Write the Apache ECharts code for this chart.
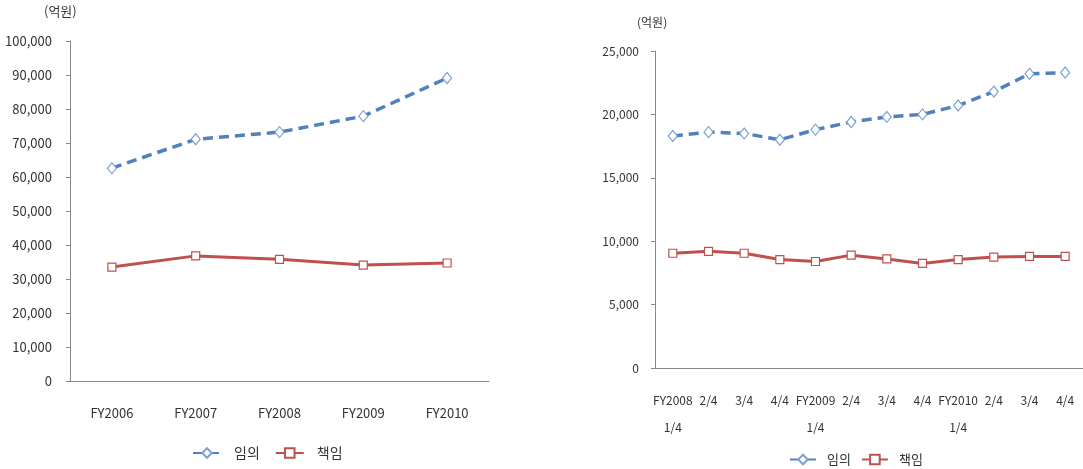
<!DOCTYPE html>
<html>
<head>
<meta charset="utf-8">
<script src="https://cdn.jsdelivr.net/npm/echarts@6/dist/echarts.min.js"></script>
<style>
  html, body { margin: 0; padding: 0; background: #fff; }
  #main { width: 1083px; height: 469px; }
</style>
</head>
<body>
<div id="main"></div>
<script>
// 연도별 (좌측)
var yearCats = ['FY2006', 'FY2007', 'FY2008', 'FY2009', 'FY2010'];
var yearVoluntary = [62600, 71100, 73200, 77900, 89100];   // 임의
var yearMandatory = [33500, 36800, 35800, 34100, 34700];   // 책임

// 분기별 (우측)
var quarterCats = ['FY2008\n1/4', '2/4', '3/4', '4/4', 'FY2009\n1/4', '2/4', '3/4', '4/4', 'FY2010\n1/4', '2/4', '3/4', '4/4'];
var quarterVoluntary = [18300, 18600, 18500, 18000, 18800, 19400, 19800, 20000, 20700, 21800, 23200, 23300];
var quarterMandatory = [9050, 9200, 9050, 8550, 8400, 8900, 8600, 8250, 8550, 8750, 8800, 8800];

var unitLabel = '(억원)';
var nameVol = '임의';
var nameMan = '책임';

var font = '"Liberation Sans Narrow", "Noto Sans CJK KR", sans-serif';
var textColor = '#333';
var axisColor = '#888';
var blue = '#4F81BD';
var red = '#C0504D';

var fmt = function (v) { return v.toLocaleString('en-US'); };

var chart = echarts.init(document.getElementById('main'));

function volSeries(x, data) {
  return {
    name: nameVol, type: 'line', xAxisIndex: x, yAxisIndex: x, data: data,
    symbol: 'diamond', symbolSize: [9, 11], showAllSymbol: true,
    lineStyle: { color: blue, width: 3.5, type: [10, 6] },
    itemStyle: { color: '#fff', borderColor: '#7EA1D3', borderWidth: 1.2 },
    emphasis: { disabled: true }
  };
}
function manSeries(x, data) {
  return {
    name: nameMan, type: 'line', xAxisIndex: x, yAxisIndex: x, data: data,
    symbol: 'rect', symbolSize: 8, showAllSymbol: true,
    lineStyle: { color: red, width: 3 },
    itemStyle: { color: '#fff', borderColor: red, borderWidth: 1.2 },
    emphasis: { disabled: true }
  };
}

chart.setOption({
  animation: false,
  textStyle: { fontFamily: font },
  grid: [
    { left: 70, top: 41, width: 419, bottom: 88 },
    { left: 655, top: 51, right: -5, bottom: 101 }
  ],
  legend: [
    {
      left: 187, top: 441, itemWidth: 28, itemHeight: 12, itemGap: 15,
      textStyle: { fontFamily: font, fontSize: 14, color: textColor, padding: [0, 0, 0, 8] },
      data: [nameVol, nameMan]
    },
    {
      left: 784, top: 448, itemWidth: 26, itemHeight: 12, itemGap: 10,
      textStyle: { fontFamily: font, fontSize: 13, color: textColor, padding: [0, 0, 0, 6] },
      data: [nameVol, nameMan]
    }
  ],
  graphic: [
    { type: 'text', left: 44, top: 5, style: { text: unitLabel, font: '13px ' + font, fill: textColor } },
    { type: 'text', left: 637, top: 16, style: { text: unitLabel, font: '12px ' + font, fill: textColor } }
  ],
  xAxis: [
    {
      type: 'category', gridIndex: 0, data: yearCats, boundaryGap: true,
      axisLine: { lineStyle: { color: axisColor } },
      axisTick: { length: 5, lineStyle: { color: axisColor } },
      axisLabel: { color: textColor, fontSize: 13, margin: 26 }
    },
    {
      type: 'category', gridIndex: 1, data: quarterCats, boundaryGap: true,
      axisLine: { lineStyle: { color: axisColor } },
      axisTick: { length: 5, lineStyle: { color: axisColor } },
      axisLabel: { color: textColor, fontSize: 12, margin: 19, interval: 0, lineHeight: 27, verticalAlign: 'top' }
    }
  ],
  yAxis: [
    {
      type: 'value', gridIndex: 0, min: 0, max: 100000, interval: 10000,
      splitLine: { show: false },
      axisLine: { show: true, lineStyle: { color: axisColor } },
      axisTick: { show: true, length: 4, lineStyle: { color: axisColor } },
      axisLabel: { color: textColor, fontSize: 13, margin: 18, formatter: fmt }
    },
    {
      type: 'value', gridIndex: 1, min: 0, max: 25000, interval: 5000,
      splitLine: { show: false },
      axisLine: { show: true, lineStyle: { color: axisColor } },
      axisTick: { show: true, length: 4, lineStyle: { color: axisColor } },
      axisLabel: { color: textColor, fontSize: 12, margin: 16, formatter: fmt }
    }
  ],
  series: [
    volSeries(0, yearVoluntary),
    manSeries(0, yearMandatory),
    volSeries(1, quarterVoluntary),
    manSeries(1, quarterMandatory)
  ]
});
</script>
</body>
</html>
